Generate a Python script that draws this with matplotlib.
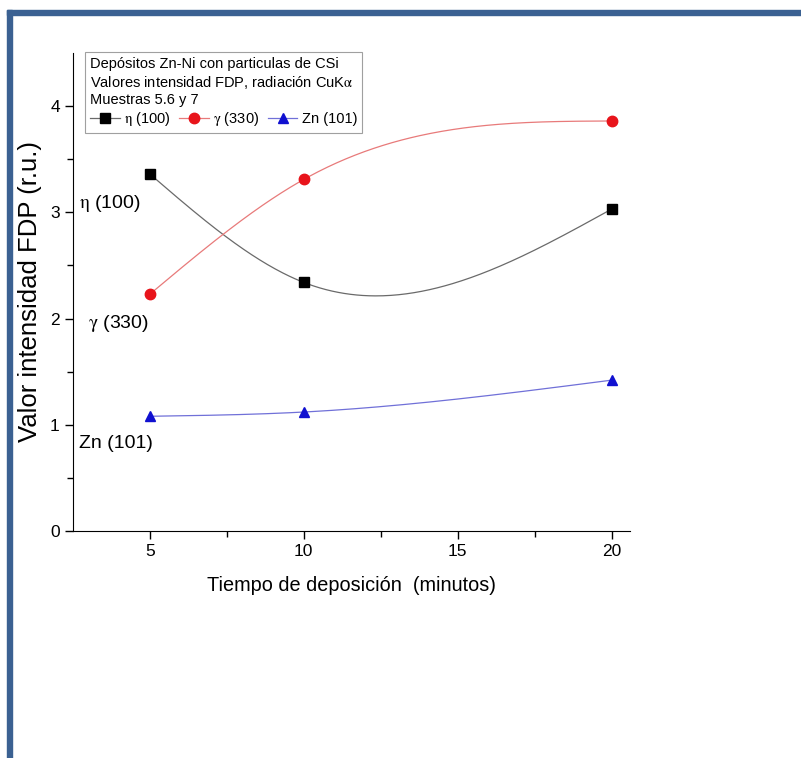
import numpy as np
from matplotlib import pyplot as plt
from matplotlib.patches import Rectangle

plt.rcParams['font.family'] = ['Liberation Sans', 'DejaVu Sans']
plt.rcParams['mathtext.fontset'] = 'stix'

tiempo = [5, 10, 20]
eta_100 = [3.36, 2.34, 3.03]
gamma_330 = [2.23, 3.31, 3.86]
zn_101 = [1.08, 1.12, 1.42]


def natural_spline(x, y, xs):
    x = np.asarray(x, float)
    y = np.asarray(y, float)
    n = len(x)
    h = np.diff(x)
    A = np.zeros((n, n))
    r = np.zeros(n)
    A[0, 0] = 1
    A[-1, -1] = 1
    for i in range(1, n - 1):
        A[i, i - 1] = h[i - 1]
        A[i, i] = 2 * (h[i - 1] + h[i])
        A[i, i + 1] = h[i]
        r[i] = 6 * ((y[i + 1] - y[i]) / h[i] - (y[i] - y[i - 1]) / h[i - 1])
    M = np.linalg.solve(A, r)
    out = np.empty_like(xs)
    for k, t in enumerate(xs):
        i = min(max(np.searchsorted(x, t) - 1, 0), n - 2)
        a = x[i + 1] - t
        b = t - x[i]
        out[k] = (M[i] * a**3 + M[i + 1] * b**3) / (6 * h[i]) \
            + (y[i] / h[i] - M[i] * h[i] / 6) * a \
            + (y[i + 1] / h[i] - M[i + 1] * h[i] / 6) * b
    return out


fig = plt.figure(figsize=(8.01, 7.58), dpi=100)
ax = fig.add_axes([73 / 801, 1 - 531 / 758, 557 / 801, 478 / 758])

xs = np.linspace(5, 20, 300)
series = [
    (eta_100, 's', 'black', '#6a6a6a', r'$\mathrm{\eta}$ (100)'),
    (gamma_330, 'o', '#e8141b', '#e87a7a', r'$\mathrm{\gamma}$ (330)'),
    (zn_101, '^', '#1010d0', '#7070d8', 'Zn (101)'),
]
handles = []
for vals, mk, mc, lc, lab in series:
    ax.plot(xs, natural_spline(tiempo, vals, xs), color=lc, lw=0.9)
    ax.plot(tiempo, vals, linestyle='none', marker=mk, color=mc, ms=7.5)
    h, = ax.plot([], [], color=lc, lw=0.9, marker=mk, mfc=mc, mec=mc, ms=7.5,
                 label=lab)
    handles.append(h)

ax.set_xlim(2.5, 20.6)
ax.set_ylim(0, 4.5)
ax.set_xticks([5, 10, 15, 20])
ax.set_xticks([7.5, 12.5, 17.5], minor=True)
ax.set_yticks([0, 1, 2, 3, 4])
ax.set_yticks([0.5, 1.5, 2.5, 3.5], minor=True)
ax.tick_params(which='major', length=6, width=1, labelsize=12.5)
ax.tick_params(which='minor', length=4, width=1)
ax.spines['top'].set_visible(False)
ax.spines['right'].set_visible(False)
ax.set_xlabel('Tiempo de deposición  (minutos)', fontsize=14.3, labelpad=12)
ax.set_ylabel('Valor intensidad FDP (r.u.)', fontsize=18.5, labelpad=6)

ax.text(2.7, 3.08, r'$\mathrm{\eta}$ (100)', fontsize=14, ha='left', va='center')
ax.text(3.0, 1.95, r'$\mathrm{\gamma}$ (330)', fontsize=14, ha='left', va='center')
ax.text(2.7, 0.82, 'Zn (101)', fontsize=14, ha='left', va='center')

leg = ax.legend(handles=handles, ncol=3, loc='upper left',
                bbox_to_anchor=(0.009, 1.017), fontsize=10.5,
                title='Depósitos Zn-Ni con particulas de CSi\n'
                      'Valores intensidad FDP, radiación CuK$\\mathrm{\\alpha}$\n'
                      'Muestras 5.6 y 7',
                title_fontsize=10.5, alignment='left', handlelength=2.0,
                handletextpad=0.3, columnspacing=0.6, borderpad=0.35,
                labelspacing=0.2, frameon=True, fancybox=False,
                edgecolor='#888888')
leg.get_frame().set_linewidth(0.8)

blue = '#3b6192'
fig.patches.append(Rectangle((7 / 801, 1 - 15 / 758), 1, 5 / 758,
                             transform=fig.transFigure, color=blue, zorder=0))
fig.patches.append(Rectangle((7 / 801, 0), 5 / 801, 1 - 10 / 758,
                             transform=fig.transFigure, color=blue, zorder=0))

fig.savefig('out.png', dpi=100)
